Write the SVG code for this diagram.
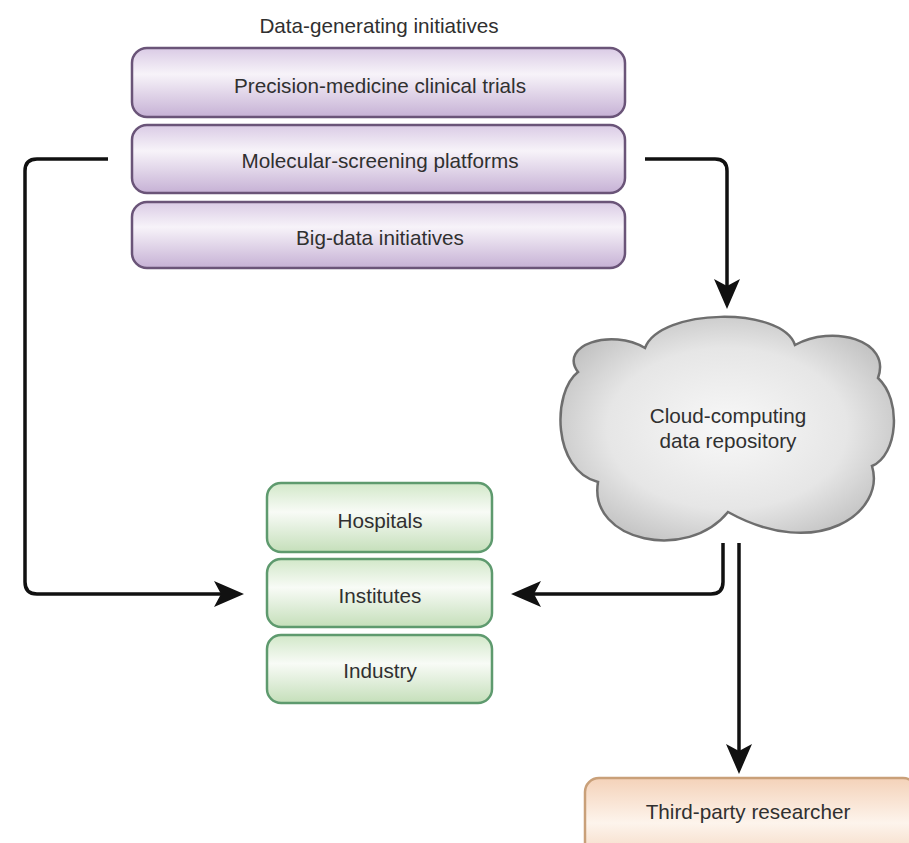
<svg xmlns="http://www.w3.org/2000/svg" width="909" height="843" viewBox="0 0 909 843">
<defs>
<linearGradient id="gPurple" x1="0" y1="0" x2="0" y2="1">
<stop offset="0" stop-color="#dacbe5"/>
<stop offset="0.38" stop-color="#f7f3f9"/>
<stop offset="1" stop-color="#c6b1d5"/>
</linearGradient>
<linearGradient id="gGreen" x1="0" y1="0" x2="0" y2="1">
<stop offset="0" stop-color="#d2e8c9"/>
<stop offset="0.42" stop-color="#f8fbf6"/>
<stop offset="1" stop-color="#c5dfba"/>
</linearGradient>
<linearGradient id="gOrange" x1="0" y1="0" x2="0" y2="1">
<stop offset="0" stop-color="#f4d2b9"/>
<stop offset="0.5" stop-color="#fdf4ec"/>
<stop offset="1" stop-color="#f2d0b6"/>
</linearGradient>
<radialGradient id="gCloud" cx="0.5" cy="0.5" r="0.6">
<stop offset="0" stop-color="#f8f8f8"/>
<stop offset="0.6" stop-color="#e6e6e6"/>
<stop offset="1" stop-color="#bcbcbc"/>
</radialGradient>
<marker id="ah" markerUnits="userSpaceOnUse" markerWidth="32" markerHeight="28" viewBox="0 0 32 28" refX="20" refY="14" orient="auto">
<path d="M1,1 L31,14 L1,27 L8,14 Z" fill="#111"/>
</marker>
</defs>
<style>
.lbl{font-family:"Liberation Sans",Arial,sans-serif;font-size:20.7px;fill:#303030;text-anchor:middle}
.pbox{fill:url(#gPurple);stroke:#6a5478;stroke-width:2.5}
.gbox{fill:url(#gGreen);stroke:#5e9a6e;stroke-width:2.5}
.obox{fill:url(#gOrange);stroke:#c9a079;stroke-width:2.5}
.conn{fill:none;stroke:#111;stroke-width:3.5;marker-end:url(#ah)}
</style>
<rect width="909" height="843" fill="#ffffff"/>
<text class="lbl" x="379" y="33">Data-generating initiatives</text>
<g id="precision">
<rect class="pbox" x="132" y="48" width="493" height="69" rx="15"/>
<text class="lbl" x="380" y="93">Precision-medicine clinical trials</text>
</g>
<g id="molecular">
<rect class="pbox" x="132" y="125" width="493" height="68" rx="15"/>
<text class="lbl" x="380" y="168">Molecular-screening platforms</text>
</g>
<g id="bigdata">
<rect class="pbox" x="132" y="202" width="493" height="66" rx="15"/>
<text class="lbl" x="380" y="245">Big-data initiatives</text>
</g>
<g id="cloud">
<path d="M578,372 C558,345 612,328 645,348 C660,308 782,306 795,345 C832,324 892,340 878,378 C902,400 898,455 872,466 C886,512 818,562 728,512 C688,562 588,542 598,482 C552,470 552,392 578,372 Z" fill="url(#gCloud)" stroke="#6e6e6e" stroke-width="2.5"/>
<text class="lbl" x="728" y="423">Cloud-computing</text>
<text class="lbl" x="728" y="448">data repository</text>
</g>
<g id="hospitals">
<rect class="gbox" x="267" y="483" width="225" height="69" rx="14"/>
<text class="lbl" x="380" y="528">Hospitals</text>
</g>
<g id="institutes">
<rect class="gbox" x="267" y="559" width="225" height="68" rx="14"/>
<text class="lbl" x="380" y="603">Institutes</text>
</g>
<g id="industry">
<rect class="gbox" x="267" y="635" width="225" height="68" rx="14"/>
<text class="lbl" x="380" y="678">Industry</text>
</g>
<g id="thirdparty">
<rect class="obox" x="585" y="778" width="332" height="90" rx="14"/>
<text class="lbl" x="748" y="819">Third-party researcher</text>
</g>
<g id="connectors">
<path class="conn" d="M108,159 H37 Q25,159 25,171 V582 Q25,594 37,594 H233"/>
<path class="conn" d="M645,159 H715 Q727,159 727,171 V298"/>
<path class="conn" d="M723,543 V582 Q723,594 711,594 H522"/>
<path class="conn" d="M739,543 V763"/>
</g>
</svg>
